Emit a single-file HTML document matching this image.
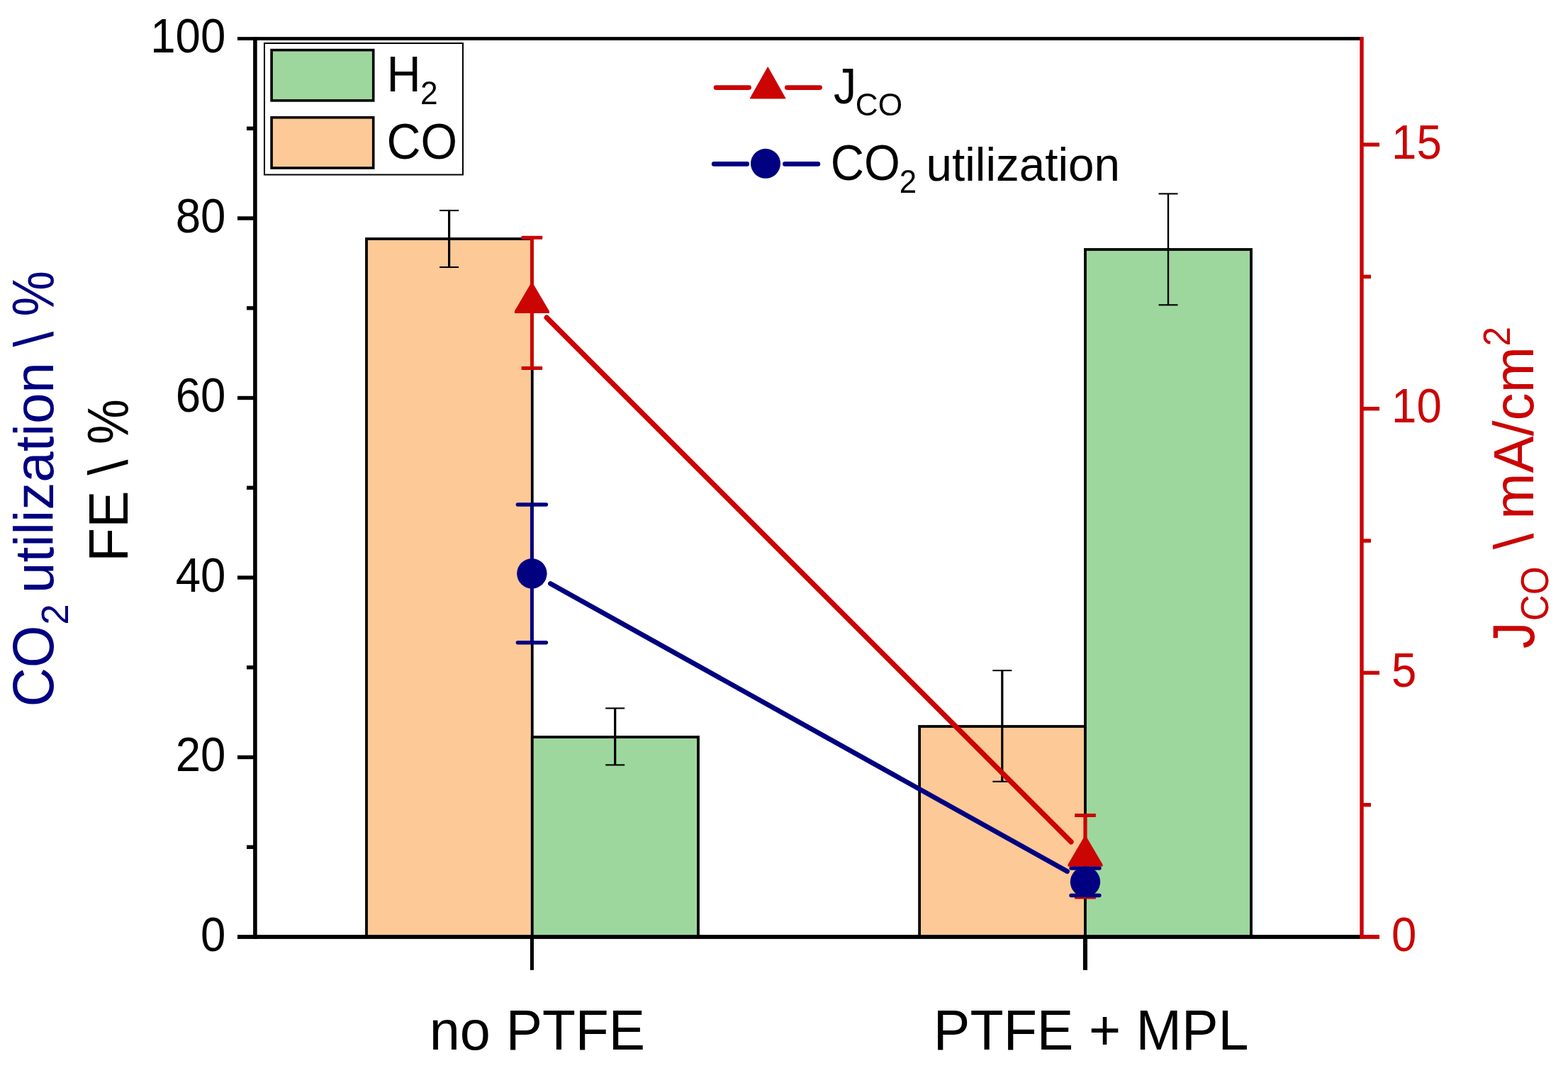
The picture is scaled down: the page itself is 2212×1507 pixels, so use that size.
<!DOCTYPE html>
<html><head><meta charset="utf-8"><title>FE and CO2 utilization chart</title>
<style>html,body{margin:0;padding:0;background:#fff;overflow:hidden}svg{display:block}text{font-family:"Liberation Sans",Arial,sans-serif;font-kerning:none}</style></head>
<body>
<svg width="2212" height="1507" viewBox="0 0 2212 1507"><rect width="100%" height="100%" fill="#fff"/><rect x="517.00" y="337.00" width="233.80" height="985.00" fill="#FCC997" stroke="#000" stroke-width="3.80"/>
<rect x="750.80" y="1040.00" width="234.20" height="282.00" fill="#9ED79E" stroke="#000" stroke-width="3.80"/>
<rect x="1297.10" y="1025.00" width="233.90" height="297.00" fill="#FCC997" stroke="#000" stroke-width="3.80"/>
<rect x="1531.00" y="352.00" width="234.00" height="970.00" fill="#9ED79E" stroke="#000" stroke-width="3.80"/>
<line x1="633.60" y1="297.00" x2="633.60" y2="377.00" stroke="#000" stroke-width="3.20"/>
<line x1="620.10" y1="297.00" x2="647.10" y2="297.00" stroke="#000" stroke-width="2.10" stroke-linecap="butt"/>
<line x1="620.10" y1="377.00" x2="647.10" y2="377.00" stroke="#000" stroke-width="2.10" stroke-linecap="butt"/>
<line x1="867.70" y1="999.40" x2="867.70" y2="1079.40" stroke="#000" stroke-width="3.20"/>
<line x1="854.20" y1="999.40" x2="881.20" y2="999.40" stroke="#000" stroke-width="2.10" stroke-linecap="butt"/>
<line x1="854.20" y1="1079.40" x2="881.20" y2="1079.40" stroke="#000" stroke-width="2.10" stroke-linecap="butt"/>
<line x1="1413.80" y1="946.10" x2="1413.80" y2="1102.80" stroke="#000" stroke-width="3.20"/>
<line x1="1400.30" y1="946.10" x2="1427.30" y2="946.10" stroke="#000" stroke-width="2.10" stroke-linecap="butt"/>
<line x1="1400.30" y1="1102.80" x2="1427.30" y2="1102.80" stroke="#000" stroke-width="2.10" stroke-linecap="butt"/>
<line x1="1648.00" y1="273.40" x2="1648.00" y2="430.30" stroke="#000" stroke-width="2.40"/>
<line x1="1634.50" y1="273.40" x2="1661.50" y2="273.40" stroke="#000" stroke-width="2.10" stroke-linecap="butt"/>
<line x1="1634.50" y1="430.30" x2="1661.50" y2="430.30" stroke="#000" stroke-width="2.10" stroke-linecap="butt"/>
<rect x="357.1" y="52" width="5.6" height="1273" fill="#000"/>
<rect x="335" y="52.1" width="1584" height="4.8" fill="#000"/>
<rect x="335" y="1319.1" width="1584" height="5.8" fill="#000"/>
<rect x="335" y="1065.80" width="24" height="5.4" fill="#000"/>
<rect x="335" y="812.30" width="24" height="5.4" fill="#000"/>
<rect x="335" y="558.80" width="24" height="5.4" fill="#000"/>
<rect x="335" y="305.30" width="24" height="5.4" fill="#000"/>
<rect x="348" y="1192.55" width="11" height="5.4" fill="#000"/>
<rect x="348" y="939.05" width="11" height="5.4" fill="#000"/>
<rect x="348" y="685.55" width="11" height="5.4" fill="#000"/>
<rect x="348" y="432.05" width="11" height="5.4" fill="#000"/>
<rect x="348" y="178.55" width="11" height="5.4" fill="#000"/>
<rect x="747.9" y="1322" width="5.1" height="46.8" fill="#000"/>
<rect x="1527.9" y="1322" width="6.1" height="46.8" fill="#000"/>
<rect x="1918.3" y="52" width="5.4" height="1273" fill="#CB0404"/>
<rect x="1921" y="946.65" width="25" height="5.4" fill="#CB0404"/>
<rect x="1921" y="574.00" width="25" height="5.4" fill="#CB0404"/>
<rect x="1921" y="201.35" width="25" height="5.4" fill="#CB0404"/>
<rect x="1921" y="1319.1" width="25" height="5.8" fill="#CB0404"/>
<rect x="1921" y="1132.97" width="13" height="5.4" fill="#CB0404"/>
<rect x="1921" y="760.32" width="13" height="5.4" fill="#CB0404"/>
<rect x="1921" y="387.68" width="13" height="5.4" fill="#CB0404"/>
<line x1="771.2" y1="448.2" x2="1511" y2="1187.8" stroke="#CB0404" stroke-width="7.3" stroke-linecap="round"/>
<line x1="750.40" y1="335.30" x2="750.40" y2="519.50" stroke="#CB0404" stroke-width="4.90"/>
<line x1="735.65" y1="335.30" x2="765.15" y2="335.30" stroke="#CB0404" stroke-width="5.00" stroke-linecap="butt"/>
<line x1="735.65" y1="519.50" x2="765.15" y2="519.50" stroke="#CB0404" stroke-width="5.00" stroke-linecap="butt"/>
<line x1="1531.00" y1="1150.50" x2="1531.00" y2="1266.00" stroke="#CB0404" stroke-width="5.20"/>
<line x1="1516.15" y1="1150.50" x2="1545.85" y2="1150.50" stroke="#CB0404" stroke-width="5.00" stroke-linecap="butt"/>
<line x1="1516.15" y1="1266.00" x2="1545.85" y2="1266.00" stroke="#CB0404" stroke-width="5.00" stroke-linecap="butt"/>
<polygon points="748.20,401.00 752.60,401.00 774.90,439.00 774.90,442.00 725.90,442.00 725.90,439.00" fill="#CB0404"/>
<polygon points="1528.80,1181.80 1533.20,1181.80 1555.50,1219.80 1555.50,1222.80 1506.50,1222.80 1506.50,1219.80" fill="#CB0404"/>
<line x1="776.5" y1="823.5" x2="1505.5" y2="1229.6" stroke="#000080" stroke-width="6.9" stroke-linecap="round"/>
<line x1="750.40" y1="712.00" x2="750.40" y2="906.80" stroke="#000080" stroke-width="4.90"/>
<line x1="730.40" y1="712.00" x2="770.40" y2="712.00" stroke="#000080" stroke-width="5.40" stroke-linecap="round"/>
<line x1="730.40" y1="906.80" x2="770.40" y2="906.80" stroke="#000080" stroke-width="5.40" stroke-linecap="round"/>
<line x1="1531.00" y1="1225.10" x2="1531.00" y2="1263.50" stroke="#000080" stroke-width="4.90"/>
<line x1="1511.00" y1="1225.10" x2="1551.00" y2="1225.10" stroke="#000080" stroke-width="5.40" stroke-linecap="round"/>
<line x1="1511.00" y1="1263.50" x2="1551.00" y2="1263.50" stroke="#000080" stroke-width="5.40" stroke-linecap="round"/>
<circle cx="750.40" cy="809.30" r="21.2" fill="#000080"/>
<circle cx="1531.00" cy="1244.30" r="21.2" fill="#000080"/>
<rect x="373" y="61" width="280" height="185.5" fill="none" stroke="#000" stroke-width="2"/>
<rect x="383.1" y="70.6" width="143.6" height="71.3" fill="#9ED79E" stroke="#000" stroke-width="3.6"/>
<rect x="383.1" y="165.8" width="143.6" height="71.2" fill="#FCC997" stroke="#000" stroke-width="3.6"/>
<line x1="1010" y1="123.6" x2="1056.6" y2="123.6" stroke="#CB0404" stroke-width="6.6" stroke-linecap="round"/>
<line x1="1110.3" y1="123.6" x2="1156.6" y2="123.6" stroke="#CB0404" stroke-width="6.6" stroke-linecap="round"/>
<polygon points="1083.2,94.7 1108.1,138.9 1058.2,138.9" fill="#CB0404" stroke="#CB0404" stroke-width="1" stroke-linejoin="round"/>
<line x1="1007.2" y1="231.4" x2="1053.8" y2="231.4" stroke="#000080" stroke-width="6.6" stroke-linecap="round"/>
<line x1="1107.4" y1="231.4" x2="1153.9" y2="231.4" stroke="#000080" stroke-width="6.6" stroke-linecap="round"/>
<circle cx="1080" cy="230.8" r="21" fill="#000080"/>
<g font-family="Liberation Sans, Arial, sans-serif" style="font-kerning:none">
<text x="0" y="0" font-size="68.785" fill="#000" transform="translate(212.255 74.028) scale(0.92477 1)">100</text>
<text x="0" y="0" font-size="68.785" fill="#000" transform="translate(283.108 1341.528) scale(0.92477 1)">0</text>
<text x="0" y="0" font-size="68.785" fill="#000" transform="translate(247.731 1088.028) scale(0.92477 1)">20</text>
<text x="0" y="0" font-size="68.785" fill="#000" transform="translate(247.731 834.528) scale(0.92477 1)">40</text>
<text x="0" y="0" font-size="68.785" fill="#000" transform="translate(247.731 581.028) scale(0.92477 1)">60</text>
<text x="0" y="0" font-size="68.785" fill="#000" transform="translate(247.731 327.528) scale(0.92477 1)">80</text>
<text x="0" y="0" font-size="68.785" fill="#CB0404" transform="translate(1963.015 1341.528) scale(0.92477 1)">0</text>
<text x="0" y="0" font-size="68.785" fill="#CB0404" transform="translate(1963.015 968.878) scale(0.92477 1)">5</text>
<text x="0" y="0" font-size="68.785" fill="#CB0404" transform="translate(1963.015 596.228) scale(0.92477 1)">10</text>
<text x="0" y="0" font-size="68.785" fill="#CB0404" transform="translate(1963.015 223.578) scale(0.92477 1)">15</text>
<text x="0" y="0" font-size="77.211" fill="#000" transform="translate(605.754 1480.746) scale(1.00371 1)">no</text>
<text x="0" y="0" font-size="80.525" fill="#000" transform="translate(713.696 1480.700) scale(0.95438 1)">PTFE</text>
<text x="0" y="0" font-size="80.525" fill="#000" transform="translate(1316.857 1480.600) scale(0.96022 1)">PTFE + MPL</text>
<text x="0" y="0" font-size="69.769" fill="#000" transform="translate(545.522 128.800) scale(0.95709 1)">H</text>
<text x="0" y="0" font-size="45.829" fill="#000" transform="translate(592.970 147.000) scale(0.96751 1)">2</text>
<text x="0" y="0" font-size="70.338" fill="#000" transform="translate(545.426 224.113) scale(0.94451 1)">CO</text>
<text x="0" y="0" font-size="70.369" fill="#000" transform="translate(1176.094 146.313) scale(0.91469 1)">J</text>
<text x="0" y="0" font-size="45.056" fill="#000" transform="translate(1206.650 163.360) scale(0.98353 1)">CO</text>
<text x="0" y="0" font-size="70.903" fill="#000" transform="translate(1171.681 254.208) scale(0.92189 1)">CO</text>
<text x="0" y="0" font-size="45.686" fill="#000" transform="translate(1268.792 271.700) scale(0.96093 1)">2</text>
<text x="0" y="0" font-size="67.132" fill="#000" transform="translate(1306.539 254.544) scale(0.97732 1)">utilization</text>
<text x="0" y="0" font-size="82.344" fill="#000080" transform="translate(75.096 997.599) rotate(-90) scale(0.93246 1)">CO</text>
<text x="0" y="0" font-size="54.279" fill="#000080" transform="translate(95.900 881.672) rotate(-90) scale(0.97866 1)">2</text>
<text x="0" y="0" font-size="77.072" fill="#000080" transform="translate(75.047 836.976) rotate(-90) scale(1.01411 1)">utilization \</text>
<text x="0" y="0" font-size="83.892" fill="#000080" transform="translate(75.808 446.580) rotate(-90) scale(0.86281 1)">%</text>
<text x="0" y="0" font-size="77.481" fill="#000" transform="translate(179.943 793.063) rotate(-90) scale(1.01691 1)">FE \</text>
<text x="0" y="0" font-size="82.463" fill="#000" transform="translate(180.517 627.054) rotate(-90) scale(0.86887 1)">%</text>
<text x="0" y="0" font-size="82.551" fill="#CB0404" transform="translate(2163.694 915.177) rotate(-90) scale(0.91262 1)">J</text>
<text x="0" y="0" font-size="56.073" fill="#CB0404" transform="translate(2184.052 876.202) rotate(-90) scale(0.91373 1)">CO</text>
<text x="0" y="0" font-size="77.617" fill="#CB0404" transform="translate(2162.842 775.300) rotate(-90) scale(1.05266 1)">\</text>
<text x="0" y="0" font-size="79.251" fill="#CB0404" transform="translate(2163.226 732.701) rotate(-90) scale(0.98835 1)">mA/cm</text>
<text x="0" y="0" font-size="52.990" fill="#CB0404" transform="translate(2130.400 488.484) rotate(-90) scale(0.93204 1)">2</text>
</g></svg>
</body></html>
